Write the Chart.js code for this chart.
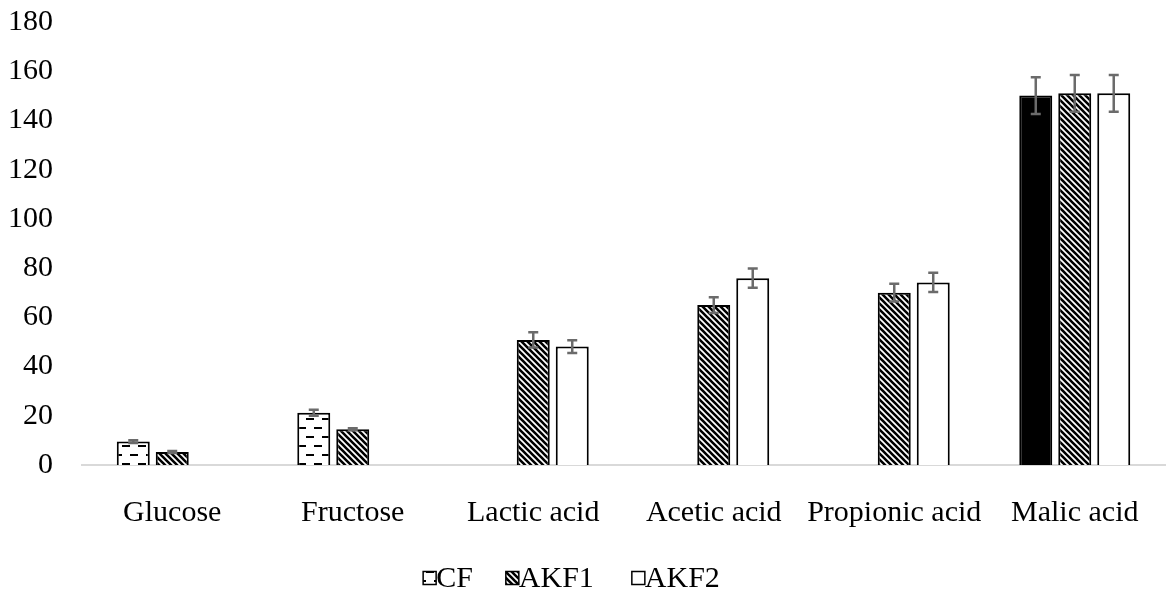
<!DOCTYPE html>
<html>
<head>
<meta charset="utf-8">
<script src="https://cdn.jsdelivr.net/npm/chart.js@4.4.1/dist/chart.umd.min.js"></script>
<style>
  html, body { margin: 0; padding: 0; background: #fff; }
  #wrap { width: 1169px; height: 590px; }
</style>
</head>
<body>
<div id="wrap"><canvas id="c" width="1169" height="590"></canvas></div>
<script>
// Concentrations per compound and fermentation
const categories = ['Glucose', 'Fructose', 'Lactic acid', 'Acetic acid', 'Propionic acid', 'Malic acid'];
const seriesNames = ['CF', 'AKF1', 'AKF2'];
const cfValues   = [9.5, 21.2, null, null, null, 150.1];
const akf1Values = [5.3, 14.5, 50.8, 65.0, 70.0, 151.0];
const akf2Values = [null, null, 48.1, 75.9, 74.2, 151.0];
const cfErrors   = [0.6, 1.2, null, null, null, 7.5];
const akf1Errors = [0.4, 0.4, 3.1, 3.2, 3.6, 7.5];
const akf2Errors = [null, null, 2.6, 3.9, 3.9, 7.5];
const yTicks = [0, 20, 40, 60, 80, 100, 120, 140, 160, 180];

const FONT = '"Liberation Serif", "Times New Roman", serif';

// Fill patterns
function makePattern(w, h, paint) {
  const cv = document.createElement('canvas');
  cv.width = w; cv.height = h;
  const g = cv.getContext('2d');
  g.fillStyle = '#fff';
  g.fillRect(0, 0, w, h);
  paint(g, w, h);
  return document.getElementById('c').getContext('2d').createPattern(cv, 'repeat');
}
const dashPattern = makePattern(16, 18, (g) => {
  g.fillStyle = '#000';
  g.fillRect(2, 4, 8, 2);
  g.fillRect(10, 13, 8, 2);
  g.fillRect(-6, 13, 8, 2);
});
const hatchPattern = makePattern(6, 6, (g) => {
  g.strokeStyle = '#000';
  g.lineWidth = 2.6;
  g.beginPath();
  g.moveTo(-3, -3); g.lineTo(9, 9);
  g.moveTo(-9, -3); g.lineTo(3, 9);
  g.moveTo(3, -3); g.lineTo(15, 9);
  g.stroke();
});

const errorsByDataset = [cfErrors, akf1Errors, akf2Errors];

// Error bars drawn over the bars
const errorBarPlugin = {
  id: 'errorBars',
  afterDatasetsDraw(chart) {
    const ctx = chart.ctx;
    const y = chart.scales.y;
    ctx.save();
    ctx.strokeStyle = '#6b6b6b';
    ctx.lineWidth = 2.5;
    chart.data.datasets.forEach((ds, i) => {
      const meta = chart.getDatasetMeta(i);
      const errs = errorsByDataset[i];
      meta.data.forEach((bar, j) => {
        const v = ds.data[j];
        const e = errs[j];
        if (v == null || e == null) return;
        const top = y.getPixelForValue(v + e);
        const bot = y.getPixelForValue(v - e);
        const cap = 5;
        ctx.beginPath();
        ctx.moveTo(bar.x, top); ctx.lineTo(bar.x, bot);
        ctx.moveTo(bar.x - cap, top); ctx.lineTo(bar.x + cap, top);
        ctx.moveTo(bar.x - cap, bot); ctx.lineTo(bar.x + cap, bot);
        ctx.stroke();
      });
    });
    ctx.restore();
  }
};

// Compact legend with the label right next to its swatch
const legendPlugin = {
  id: 'compactLegend',
  afterDraw(chart) {
    const ctx = chart.ctx;
    const box = 13, gapText = 0, gaps = [33, 38];
    ctx.save();
    ctx.font = '30px ' + FONT;
    ctx.textBaseline = 'middle';
    const items = chart.data.datasets.map(ds => ({
      label: ds.label, fill: ds.legendFill, w: box + gapText + ctx.measureText(ds.label).width
    }));
    const total = items.reduce((s, it) => s + it.w, 0) + gaps.reduce((s, g) => s + g, 0);
    let x = chart.width / 2 - total / 2 - 13;
    const yc = 578;
    items.forEach((it, k) => {
      ctx.fillStyle = it.fill;
      ctx.fillRect(x, yc - box / 2, box, box);
      ctx.strokeStyle = '#000';
      ctx.lineWidth = 1.5;
      ctx.strokeRect(x, yc - box / 2, box, box);
      ctx.fillStyle = '#000';
      ctx.fillText(it.label, x + box + gapText, yc + 1);
      x += it.w + (gaps[k] || 0);
    });
    ctx.restore();
  }
};

const chart = new Chart(document.getElementById('c'), {
  type: 'bar',
  data: {
    labels: categories,
    datasets: [
      {
        label: seriesNames[0], data: cfValues, legendFill: dashPattern,
        backgroundColor: (c) => (c.dataIndex === 5 ? '#000' : dashPattern),
        borderColor: '#000', borderWidth: 2
      },
      {
        label: seriesNames[1], data: akf1Values, legendFill: hatchPattern,
        backgroundColor: hatchPattern, borderColor: '#000', borderWidth: 2
      },
      {
        label: seriesNames[2], data: akf2Values, legendFill: '#fff',
        backgroundColor: '#fff', borderColor: '#000', borderWidth: 2
      }
    ]
  },
  options: {
    responsive: false,
    animation: false,
    layout: { padding: { left: 0, right: 4, top: 22, bottom: 60 } },
    categoryPercentage: 0.648,
    barPercentage: 0.846,
    plugins: { legend: { display: false }, tooltip: { enabled: false } },
    scales: {
      x: {
        grid: { display: false, drawTicks: false },
        border: { display: true, color: '#d9d9d9', width: 2 },
        ticks: { color: '#000', font: { family: FONT, size: 30 }, padding: 30, maxRotation: 0, autoSkip: false },
        afterFit(s) { s.height = 65; s.paddingLeft = 0; s.paddingRight = 0; }
      },
      y: {
        min: 0, max: 180,
        grid: { display: false, drawTicks: false },
        border: { display: false },
        afterBuildTicks(s) { s.ticks = yTicks.map(v => ({ value: v })); },
        ticks: { color: '#000', font: { family: FONT, size: 30 }, padding: 29 },
        afterFit(s) { s.width = 82; s.paddingTop = 0; s.paddingBottom = 0; }
      }
    }
  },
  plugins: [errorBarPlugin, legendPlugin]
});
</script>
</body>
</html>
